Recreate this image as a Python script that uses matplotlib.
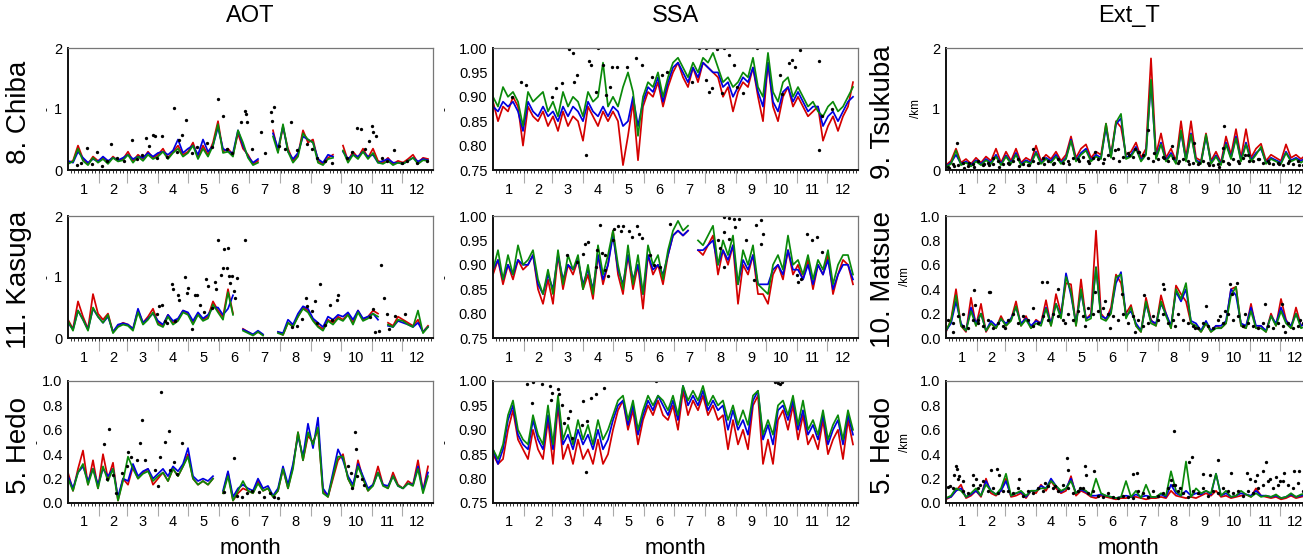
import numpy as np
import matplotlib
matplotlib.use("Agg")
import matplotlib.pyplot as plt
from matplotlib.ticker import MultipleLocator

plt.rcParams["font.family"] = ["Liberation Sans", "DejaVu Sans"]

nan = np.nan

# model output every 5 days (day of year 1, 6, ..., 361)
days = np.arange(1, 366, 5)
month_start = [1, 32, 60, 91, 121, 152, 182, 213, 244, 274, 305, 335, 366]
month_labels = [str(m) for m in range(1, 13)]

# ---- 8. Chiba, AOT
chiba_aot_red = [0.12, 0.15, 0.40, 0.18, 0.10, 0.22, 0.15, 0.20, 0.12, 0.22, 0.15, 0.18,
                 0.30, 0.15, 0.25, 0.18, 0.30, 0.20, 0.25, 0.35, 0.20, 0.30, 0.40, 0.25,
                 0.30, 0.45, 0.20, 0.40, 0.25, 0.45, 0.80, 0.30, 0.35, 0.25, 0.60, 0.35,
                 0.25, 0.10, 0.15, nan, nan, 0.65, 0.30, 0.70, 0.35, 0.15, 0.25, 0.65, 0.45,
                 0.50, 0.15, 0.10, 0.20, 0.25, nan, 0.40, 0.15, 0.30, 0.20, 0.35, 0.20,
                 0.35, 0.15, 0.12, 0.20, 0.10, 0.15, 0.12, 0.18, 0.25, 0.12, 0.20, 0.18]
chiba_aot_blue = [0.15, 0.12, 0.30, 0.20, 0.12, 0.18, 0.14, 0.22, 0.15, 0.20, 0.16, 0.20,
                  0.25, 0.18, 0.22, 0.20, 0.28, 0.22, 0.28, 0.30, 0.25, 0.32, 0.50, 0.28,
                  0.35, 0.40, 0.25, 0.50, 0.30, 0.40, 0.70, 0.35, 0.30, 0.28, 0.65, 0.40,
                  0.22, 0.12, 0.18, nan, nan, 0.60, 0.35, 0.72, 0.30, 0.18, 0.28, 0.55, 0.50,
                  0.45, 0.18, 0.12, 0.25, 0.22, nan, 0.30, 0.18, 0.25, 0.22, 0.30, 0.22,
                  0.25, 0.12, 0.15, 0.18, 0.12, 0.12, 0.10, 0.15, 0.20, 0.14, 0.18, 0.16]
chiba_aot_green = [0.10, 0.14, 0.35, 0.15, 0.08, 0.20, 0.12, 0.18, 0.10, 0.20, 0.14, 0.16,
                   0.25, 0.12, 0.22, 0.15, 0.25, 0.18, 0.22, 0.30, 0.18, 0.28, 0.35, 0.22,
                   0.28, 0.40, 0.18, 0.35, 0.22, 0.40, 0.75, 0.28, 0.30, 0.22, 0.65, 0.45,
                   0.20, 0.08, 0.12, nan, nan, 0.55, 0.28, 0.75, 0.30, 0.12, 0.22, 0.60, 0.50,
                   0.45, 0.12, 0.08, 0.18, 0.20, nan, 0.32, 0.12, 0.25, 0.18, 0.30, 0.18,
                   0.28, 0.12, 0.10, 0.15, 0.08, 0.12, 0.10, 0.15, 0.20, 0.10, 0.16, 0.15]
chiba_aot_obs_day = [107, 151, 156, 119, 178, 179, 180, 174, 207, 204, 205, 224, 194, 115, 112,
                     95, 86, 88, 79, 65, 44, 290, 294, 305, 306, 309, 302, 327, 20, 30, 10, 14,
                     25, 35, 40, 50, 57, 70, 75, 82, 90, 100, 110, 125, 130, 140, 145, 160, 165,
                     185, 198, 212, 218, 230, 240, 245, 250, 258, 265, 280, 285, 298, 315, 320,
                     335, 340, 350, 360]
chiba_aot_obs = [1.02, 1.16, 0.89, 0.82, 0.96, 0.91, 0.78, 0.78, 1.03, 0.95, 0.80, 0.78, 0.62,
                 0.58, 0.49, 0.55, 0.58, 0.56, 0.52, 0.49, 0.42, 0.69, 0.67, 0.72, 0.63, 0.55,
                 0.47, 0.32, 0.36, 0.30, 0.08, 0.12, 0.10, 0.06, 0.15, 0.20, 0.15, 0.18, 0.25,
                 0.40, 0.20, 0.22, 0.30, 0.28, 0.38, 0.45, 0.38, 0.35, 0.28, 0.35, 0.28, 0.40,
                 0.35, 0.32, 0.42, 0.35, 0.20, 0.15, 0.12, 0.20, 0.30, 0.35, 0.20, 0.15, 0.12,
                 0.15, 0.12, 0.15]

# ---- 8. Chiba, SSA
chiba_ssa_red = [0.89, 0.85, 0.88, 0.87, 0.90, 0.88, 0.80, 0.88, 0.86, 0.85, 0.87, 0.84,
                 0.86, 0.83, 0.87, 0.84, 0.86, 0.85, 0.81, 0.88, 0.86, 0.84, 0.87, 0.85,
                 0.87, 0.85, 0.76, 0.82, 0.89, 0.77, 0.88, 0.91, 0.90, 0.93, 0.88, 0.92,
                 0.95, 0.97, 0.94, 0.92, 0.96, 0.93, 0.97, 0.96, 0.95, 0.94, 0.90, 0.92, 0.87,
                 0.91, 0.93, 0.92, 0.96, 0.90, 0.85, 0.97, 0.88, 0.85, 0.90, 0.92, 0.88,
                 0.90, 0.88, 0.86, 0.87, 0.88, 0.81, 0.84, 0.86, 0.83, 0.86, 0.88, 0.93]
chiba_ssa_blue = [0.88, 0.87, 0.89, 0.88, 0.89, 0.87, 0.83, 0.89, 0.87, 0.86, 0.88, 0.86,
                  0.87, 0.85, 0.88, 0.86, 0.88, 0.87, 0.85, 0.89, 0.87, 0.86, 0.88, 0.86,
                  0.88, 0.87, 0.84, 0.85, 0.90, 0.84, 0.89, 0.92, 0.91, 0.94, 0.89, 0.93,
                  0.96, 0.97, 0.95, 0.93, 0.96, 0.94, 0.97, 0.96, 0.95, 0.95, 0.92, 0.93, 0.90,
                  0.92, 0.94, 0.93, 0.96, 0.91, 0.88, 0.97, 0.89, 0.87, 0.91, 0.92, 0.89,
                  0.91, 0.89, 0.87, 0.88, 0.88, 0.84, 0.86, 0.87, 0.85, 0.87, 0.89, 0.90]
chiba_ssa_green = [0.90, 0.88, 0.92, 0.90, 0.91, 0.89, 0.84, 0.91, 0.89, 0.90, 0.91, 0.87,
                   0.89, 0.86, 0.91, 0.88, 0.90, 0.89, 0.86, 0.91, 0.89, 0.90, 0.97, 0.88,
                   0.90, 0.88, 0.92, 0.95, 0.91, 0.82, 0.90, 0.93, 0.92, 0.95, 0.90, 0.94,
                   0.97, 0.98, 0.96, 0.94, 0.97, 0.95, 0.98, 0.97, 0.99, 0.96, 0.93, 0.94, 0.92,
                   0.93, 0.95, 0.94, 0.98, 0.92, 0.90, 0.99, 0.91, 0.89, 0.93, 0.94, 0.90,
                   0.92, 0.90, 0.88, 0.89, 0.87, 0.86, 0.88, 0.89, 0.87, 0.88, 0.90, 0.92]
chiba_ssa_obs_day = [77, 81, 85, 94, 106, 97, 99, 111, 120, 125, 135, 144, 150, 207, 214, 225,
                     232, 237, 242, 265, 300, 303, 308, 297, 327, 327, 288, 34, 29, 64, 70, 82,
                     104, 114, 118, 214, 220, 217, 251, 230, 290, 160, 175, 170, 200, 245, 330,
                     340, 60, 20]
chiba_ssa_obs = [0.997, 0.99, 0.945, 0.78, 1.0, 0.974, 0.965, 0.966, 0.962, 0.962, 0.962, 0.98,
                 0.966, 1.0, 1.0, 0.998, 1.0, 0.985, 0.966, 1.0, 0.976, 0.962, 0.995, 0.97,
                 0.973, 0.79, 0.945, 0.925, 0.93, 0.918, 0.928, 0.93, 0.91, 0.904, 0.92, 0.935,
                 0.918, 0.91, 0.908, 0.908, 0.905, 0.94, 0.95, 0.945, 0.93, 0.92, 0.86, 0.875,
                 0.90, 0.90]

# ---- 9. Tsukuba, Ext_T
tsukuba_ext_red = [0.08, 0.15, 0.35, 0.12, 0.18, 0.10, 0.20, 0.12, 0.22, 0.15, 0.35, 0.12,
                   0.30, 0.15, 0.35, 0.12, 0.20, 0.15, 0.40, 0.15, 0.25, 0.18, 0.30, 0.15,
                   0.25, 0.55, 0.20, 0.35, 0.42, 0.20, 0.30, 0.25, 0.76, 0.25, 0.80, 0.70,
                   0.25, 0.30, 0.45, 0.20, 0.35, 1.83, 0.25, 0.60, 0.20, 0.35, 0.15, 0.80, 0.20,
                   0.80, 0.20, 0.15, 0.60, 0.15, 0.30, 0.12, 0.55, 0.25, 0.67, 0.20, 0.67,
                   0.20, 0.35, 0.43, 0.15, 0.25, 0.20, 0.15, 0.42, 0.20, 0.25, 0.18, 0.25]
tsukuba_ext_blue = [0.06, 0.12, 0.25, 0.10, 0.14, 0.08, 0.16, 0.10, 0.18, 0.12, 0.25, 0.10,
                    0.24, 0.12, 0.28, 0.10, 0.16, 0.12, 0.30, 0.12, 0.20, 0.15, 0.25, 0.12,
                    0.20, 0.50, 0.16, 0.28, 0.35, 0.16, 0.25, 0.20, 0.70, 0.22, 0.75, 0.85,
                    0.20, 0.25, 0.38, 0.16, 0.28, 1.45, 0.20, 0.45, 0.16, 0.28, 0.12, 0.62, 0.16,
                    0.60, 0.16, 0.12, 0.55, 0.12, 0.24, 0.10, 0.45, 0.20, 0.55, 0.16, 0.45,
                    0.16, 0.28, 0.35, 0.12, 0.20, 0.16, 0.12, 0.30, 0.16, 0.20, 0.15, 0.20]
tsukuba_ext_green = [0.05, 0.10, 0.32, 0.08, 0.12, 0.06, 0.14, 0.08, 0.16, 0.10, 0.22, 0.08,
                     0.22, 0.10, 0.25, 0.08, 0.14, 0.10, 0.28, 0.10, 0.18, 0.12, 0.22, 0.10,
                     0.18, 0.48, 0.14, 0.25, 0.32, 0.14, 0.22, 0.18, 0.76, 0.20, 0.78, 0.92,
                     0.18, 0.22, 0.35, 0.14, 0.25, 1.48, 0.18, 0.42, 0.14, 0.25, 0.10, 0.65, 0.14,
                     0.58, 0.14, 0.10, 0.58, 0.10, 0.22, 0.08, 0.42, 0.18, 0.52, 0.14, 0.42,
                     0.14, 0.25, 0.38, 0.10, 0.18, 0.14, 0.10, 0.28, 0.14, 0.18, 0.12, 0.18]
# lidar, on days 3, 8, ..., 363
tsukuba_ext_obs_grid = [0.05, 0.10, 0.08, 0.12, 0.06, 0.10, 0.14, 0.08, 0.12, 0.10, 0.15, 0.10,
                        0.12, 0.15, 0.18, 0.10, 0.08, 0.14, 0.12, 0.20, 0.15, 0.10, 0.18, 0.12,
                        0.15, 0.20, 0.18, 0.22, 0.15, 0.20, 0.18, 0.12, 0.25, 0.20, 0.35, 0.22,
                        0.28, 0.22, 0.30, 0.25, 0.20, 0.15, 0.18, 0.22, 0.15, 0.20, 0.12, 0.18,
                        0.15, 0.12, 0.10, 0.15, 0.12, 0.08, 0.10, 0.15, 0.12, 0.18, 0.15, 0.20,
                        0.25, 0.15, 0.18, 0.12, 0.15, 0.10, 0.12, 0.08, 0.12, 0.10, 0.14, 0.08,
                        0.10]
tsukuba_ext_obs_day = [12, 203, 227, 249, 279, 278, 88, 48, 150, 170, 190, 300, 4, 9, 19, 24, 29,
                       39, 44, 54, 64, 74, 84, 99, 109, 124, 134, 144, 159, 174, 184, 194, 209,
                       219, 234, 244, 254, 264, 274, 284, 294, 304, 314, 324, 334, 344, 354, 364]
tsukuba_ext_obs = [0.44, 0.66, 0.39, 0.45, 0.72, 0.36, 0.34, 0.20, 0.30, 0.32, 0.35, 0.24, 0.03,
                   0.06, 0.04, 0.12, 0.05, 0.10, 0.08, 0.05, 0.10, 0.06, 0.08, 0.10, 0.12, 0.10,
                   0.15, 0.12, 0.18, 0.15, 0.25, 0.30, 0.28, 0.20, 0.15, 0.10, 0.12, 0.08, 0.05,
                   0.10, 0.12, 0.15, 0.18, 0.12, 0.10, 0.15, 0.08, 0.12]

# ---- 11. Kasuga, AOT
kasuga_aot_red = [0.30, 0.15, 0.60, 0.35, 0.15, 0.72, 0.40, 0.30, 0.40, 0.10, 0.20, 0.25,
                  0.22, 0.15, 0.45, 0.25, 0.35, 0.48, 0.25, 0.20, 0.38, 0.25, 0.30, 0.45,
                  0.40, 0.25, 0.40, 0.30, 0.35, 0.60, 0.45, 0.35, 0.80, 0.40, nan, 0.15,
                  0.10, 0.05, 0.10, 0.05, nan, nan, 0.10, 0.05, 0.25, 0.20, 0.35, 0.50, 0.45,
                  0.30, 0.20, 0.15, 0.30, 0.25, 0.35, 0.30, 0.40, 0.25, 0.45, 0.30, 0.35,
                  0.45, 0.40, nan, 0.25, 0.20, 0.35, 0.30, 0.25, 0.20, 0.30, 0.10, 0.20]
kasuga_aot_blue = [0.25, 0.14, 0.45, 0.30, 0.14, 0.48, 0.35, 0.25, 0.35, 0.10, 0.22, 0.24,
                   0.22, 0.15, 0.48, 0.25, 0.32, 0.40, 0.28, 0.22, 0.38, 0.28, 0.32, 0.45,
                   0.42, 0.28, 0.42, 0.32, 0.38, 0.50, 0.50, 0.38, 0.48, 0.70, nan, 0.14,
                   0.10, 0.06, 0.12, 0.06, nan, nan, 0.10, 0.08, 0.30, 0.22, 0.40, 0.52, 0.48,
                   0.32, 0.25, 0.18, 0.35, 0.30, 0.38, 0.35, 0.42, 0.30, 0.45, 0.32, 0.35,
                   0.40, 0.30, nan, 0.20, 0.18, 0.28, 0.25, 0.22, 0.18, 0.25, 0.10, 0.18]
kasuga_aot_green = [0.28, 0.12, 0.45, 0.30, 0.12, 0.50, 0.35, 0.25, 0.38, 0.08, 0.18, 0.22,
                    0.20, 0.12, 0.42, 0.22, 0.30, 0.42, 0.22, 0.18, 0.35, 0.22, 0.28, 0.42,
                    0.38, 0.22, 0.38, 0.28, 0.32, 0.55, 0.42, 0.30, 0.75, 0.38, nan, 0.12,
                    0.08, 0.04, 0.10, 0.04, nan, nan, 0.08, 0.05, 0.25, 0.18, 0.35, 0.48, 0.42,
                    0.28, 0.18, 0.12, 0.28, 0.22, 0.32, 0.28, 0.38, 0.22, 0.42, 0.28, 0.32,
                    0.40, 0.35, nan, 0.22, 0.18, 0.30, 0.28, 0.22, 0.18, 0.45, 0.08, 0.18]
kasuga_aot_obs_day = [105, 106, 111, 112, 118, 120, 121, 139, 141, 128, 130, 133, 148, 149, 151,
                      154, 156, 157, 161, 160, 162, 163, 165, 170, 167, 168, 178, 92, 95, 90, 98,
                      240, 239, 253, 248, 263, 271, 270, 314, 317, 306, 320, 328, 338, 235, 230,
                      225, 245, 250, 258, 265, 303, 308, 312, 322, 100, 108, 125, 137, 145]
kasuga_aot_obs = [0.89, 0.80, 0.71, 0.63, 1.00, 0.74, 0.82, 0.96, 0.85, 0.71, 0.70, 0.54, 0.92,
                  0.81, 1.61, 1.03, 1.15, 1.46, 1.47, 1.15, 1.01, 0.90, 1.01, 0.98, 0.77, 0.66,
                  1.61, 0.52, 0.54, 0.39, 0.28, 0.53, 0.66, 0.89, 0.61, 0.54, 0.71, 0.62, 1.20,
                  0.65, 0.48, 0.39, 0.36, 0.39, 0.31, 0.20, 0.18, 0.45, 0.25, 0.22, 0.30, 0.35,
                  0.10, 0.12, 0.15, 0.25, 0.28, 0.15, 0.42, 0.50]

# ---- 11. Kasuga, SSA
kasuga_ssa_red = [0.88, 0.91, 0.86, 0.90, 0.87, 0.91, 0.89, 0.90, 0.92, 0.85, 0.82, 0.87,
                  0.82, 0.92, 0.85, 0.90, 0.88, 0.91, 0.85, 0.88, 0.83, 0.92, 0.86, 0.90,
                  0.97, 0.88, 0.84, 0.92, 0.85, 0.90, 0.81, 0.92, 0.88, 0.90, 0.86, 0.92,
                  0.96, 0.97, 0.96, 0.97, nan, 0.93, 0.92, 0.94, 0.96, 0.88, 0.93, 0.90, 0.94,
                  0.82, 0.90, 0.88, 0.92, 0.84, 0.84, 0.82, 0.88, 0.90, 0.87, 0.93, 0.88,
                  0.90, 0.87, 0.91, 0.85, 0.90, 0.88, 0.92, 0.84, 0.88, 0.91, 0.90, 0.86]
kasuga_ssa_blue = [0.89, 0.91, 0.87, 0.90, 0.88, 0.91, 0.90, 0.90, 0.92, 0.86, 0.84, 0.88,
                   0.85, 0.92, 0.87, 0.90, 0.89, 0.91, 0.86, 0.89, 0.85, 0.92, 0.87, 0.90,
                   0.96, 0.89, 0.86, 0.92, 0.87, 0.90, 0.84, 0.92, 0.89, 0.90, 0.88, 0.92,
                   0.96, 0.97, 0.96, 0.97, nan, 0.93, 0.93, 0.94, 0.95, 0.90, 0.93, 0.91, 0.94,
                   0.86, 0.91, 0.89, 0.92, 0.86, 0.86, 0.86, 0.89, 0.90, 0.88, 0.93, 0.89,
                   0.89, 0.87, 0.90, 0.86, 0.90, 0.88, 0.91, 0.85, 0.88, 0.90, 0.90, 0.87]
kasuga_ssa_green = [0.89, 0.93, 0.87, 0.92, 0.88, 0.94, 0.90, 0.91, 0.93, 0.87, 0.84, 0.89,
                    0.84, 0.93, 0.86, 0.92, 0.89, 0.92, 0.85, 0.90, 0.84, 0.94, 0.88, 0.92,
                    0.97, 0.90, 0.85, 0.94, 0.86, 0.92, 0.84, 0.94, 0.90, 0.92, 0.87, 0.93,
                    0.97, 0.99, 0.97, 0.98, nan, 0.95, 0.94, 0.96, 0.98, 0.90, 0.95, 0.92, 0.96,
                    0.86, 0.93, 0.90, 0.94, 0.86, 0.85, 0.84, 0.90, 0.92, 0.89, 0.96, 0.90,
                    0.91, 0.88, 0.92, 0.87, 0.91, 0.89, 0.93, 0.86, 0.90, 0.92, 0.92, 0.88]
kasuga_ssa_obs_day = [108, 121, 122, 126, 131, 129, 137, 145, 140, 147, 150, 93, 96, 91, 105,
                      110, 113, 104, 113, 116, 158, 162, 168, 178, 232, 237, 242, 247, 243, 232,
                      232, 237, 254, 264, 269, 271, 262, 269, 315, 320, 325, 309, 305, 330, 306,
                      75, 85, 228, 226]
kasuga_ssa_obs = [0.981, 0.95, 0.974, 0.98, 0.98, 0.97, 0.97, 0.98, 0.957, 0.964, 0.955, 0.943,
                  0.947, 0.923, 0.93, 0.925, 0.92, 0.895, 0.89, 0.878, 0.92, 0.90, 0.895, 0.984,
                  0.998, 0.995, 0.993, 0.993, 0.977, 0.967, 0.895, 0.953, 0.95, 0.981, 0.991,
                  0.964, 0.868, 0.943, 0.964, 0.95, 0.957, 0.871, 0.88, 0.926, 0.864, 0.92,
                  0.905, 0.935, 0.95]

# ---- 10. Matsue, Ext_T
matsue_ext_red = [0.05, 0.15, 0.40, 0.10, 0.05, 0.33, 0.10, 0.28, 0.05, 0.12, 0.08, 0.18,
                  0.10, 0.15, 0.30, 0.10, 0.18, 0.08, 0.15, 0.12, 0.31, 0.10, 0.36, 0.20,
                  0.45, 0.44, 0.10, 0.48, 0.15, 0.20, 0.88, 0.20, 0.15, 0.25, 0.52, 0.45,
                  0.20, 0.27, 0.10, 0.05, 0.33, 0.15, 0.10, 0.35, 0.20, 0.08, 0.43, 0.36, 0.30,
                  0.12, 0.10, 0.05, 0.12, 0.05, 0.10, 0.08, 0.12, 0.40, 0.42, 0.10, 0.08,
                  0.28, 0.08, 0.10, 0.05, 0.20, 0.10, 0.32, 0.15, 0.08, 0.25, 0.10, 0.12]
matsue_ext_blue = [0.06, 0.12, 0.30, 0.12, 0.06, 0.25, 0.12, 0.20, 0.06, 0.14, 0.10, 0.15,
                   0.12, 0.16, 0.25, 0.12, 0.16, 0.10, 0.14, 0.12, 0.25, 0.12, 0.28, 0.18,
                   0.53, 0.35, 0.12, 0.38, 0.16, 0.18, 0.58, 0.18, 0.16, 0.22, 0.45, 0.54,
                   0.18, 0.22, 0.12, 0.06, 0.28, 0.14, 0.12, 0.28, 0.20, 0.10, 0.38, 0.30, 0.40,
                   0.14, 0.12, 0.06, 0.14, 0.06, 0.10, 0.10, 0.14, 0.40, 0.35, 0.12, 0.10,
                   0.25, 0.10, 0.10, 0.06, 0.18, 0.12, 0.25, 0.14, 0.10, 0.20, 0.10, 0.12]
matsue_ext_green = [0.06, 0.14, 0.35, 0.10, 0.06, 0.22, 0.10, 0.20, 0.06, 0.12, 0.08, 0.16,
                    0.10, 0.14, 0.26, 0.10, 0.15, 0.08, 0.12, 0.10, 0.24, 0.10, 0.28, 0.16,
                    0.50, 0.38, 0.10, 0.40, 0.14, 0.16, 0.58, 0.16, 0.14, 0.20, 0.50, 0.52,
                    0.16, 0.25, 0.10, 0.05, 0.30, 0.12, 0.10, 0.30, 0.18, 0.08, 0.40, 0.32, 0.45,
                    0.12, 0.10, 0.05, 0.12, 0.05, 0.08, 0.08, 0.12, 0.35, 0.42, 0.10, 0.08,
                    0.22, 0.08, 0.08, 0.05, 0.18, 0.10, 0.22, 0.12, 0.08, 0.20, 0.08, 0.10]
matsue_ext_obs_grid = [0.15, 0.12, 0.18, 0.10, 0.08, 0.15, 0.12, 0.10, 0.15, 0.08, 0.12, 0.10,
                       0.15, 0.20, 0.12, 0.18, 0.15, 0.10, 0.12, 0.18, 0.15, 0.20, 0.18, 0.15,
                       0.20, 0.15, 0.22, 0.18, 0.25, 0.20, 0.22, 0.25, 0.20, 0.18, 0.15, 0.20,
                       0.12, 0.18, 0.15, 0.10, 0.12, 0.18, 0.15, 0.20, 0.12, 0.15, 0.20, 0.15,
                       0.12, 0.10, 0.08, 0.12, 0.10, 0.08, 0.15, 0.12, 0.20, 0.15, 0.18, 0.10,
                       0.12, 0.10, 0.08, 0.12, 0.10, 0.08, 0.12, 0.10, 0.12, 0.08, 0.10, 0.12,
                       0.10]
matsue_ext_obs_day = [29, 30, 44, 45, 97, 102, 113, 177, 199, 218, 219, 261, 285, 292, 287, 320,
                      337, 150, 160, 280, 275, 8, 18, 33, 60, 88, 120, 140, 165, 190, 230, 250,
                      300, 340, 355]
matsue_ext_obs = [0.39, 0.27, 0.38, 0.38, 0.46, 0.46, 0.40, 0.36, 0.35, 0.44, 0.40, 0.26, 0.44,
                  0.45, 0.36, 0.28, 0.28, 0.38, 0.30, 0.22, 0.18, 0.05, 0.20, 0.15, 0.08, 0.25,
                  0.12, 0.10, 0.08, 0.05, 0.10, 0.08, 0.20, 0.05, 0.15]

# ---- 5. Hedo, AOT
hedo_aot_red = [0.25, 0.10, 0.28, 0.43, 0.15, 0.35, 0.12, 0.40, 0.20, 0.33, 0.02, 0.20,
                0.15, 0.30, 0.20, 0.25, 0.28, 0.15, 0.20, 0.25, 0.18, 0.28, 0.22, 0.30,
                0.40, 0.20, 0.15, 0.18, 0.15, 0.20, nan, 0.08, 0.25, 0.02, 0.08, 0.12,
                0.10, 0.08, 0.18, 0.10, 0.12, 0.05, 0.10, 0.28, 0.12, 0.30, 0.58, 0.35, 0.55,
                0.50, 0.60, 0.10, 0.05, 0.20, 0.35, 0.40, 0.20, 0.12, 0.35, 0.20, 0.10,
                0.15, 0.30, 0.15, 0.12, 0.25, 0.15, 0.12, 0.18, 0.15, 0.35, 0.10, 0.30]
hedo_aot_blue = [0.22, 0.12, 0.25, 0.30, 0.18, 0.28, 0.15, 0.28, 0.22, 0.28, 0.05, 0.20,
                 0.18, 0.32, 0.22, 0.26, 0.28, 0.20, 0.24, 0.28, 0.22, 0.30, 0.26, 0.32,
                 0.45, 0.22, 0.18, 0.20, 0.18, 0.22, nan, 0.10, 0.26, 0.05, 0.12, 0.15,
                 0.12, 0.10, 0.20, 0.12, 0.14, 0.06, 0.12, 0.30, 0.15, 0.32, 0.55, 0.38, 0.65,
                 0.45, 0.70, 0.12, 0.06, 0.25, 0.44, 0.35, 0.22, 0.15, 0.32, 0.22, 0.12,
                 0.15, 0.25, 0.15, 0.14, 0.22, 0.14, 0.12, 0.16, 0.15, 0.30, 0.10, 0.25]
hedo_aot_green = [0.20, 0.10, 0.25, 0.32, 0.15, 0.28, 0.12, 0.30, 0.18, 0.28, 0.02, 0.18,
                  0.38, 0.28, 0.20, 0.24, 0.26, 0.18, 0.22, 0.25, 0.18, 0.28, 0.22, 0.30,
                  0.38, 0.20, 0.15, 0.18, 0.15, 0.20, nan, 0.08, 0.22, 0.02, 0.10, 0.18,
                  0.10, 0.08, 0.16, 0.10, 0.12, 0.05, 0.10, 0.28, 0.12, 0.28, 0.58, 0.35, 0.58,
                  0.48, 0.62, 0.08, 0.05, 0.22, 0.38, 0.38, 0.20, 0.12, 0.30, 0.20, 0.10,
                  0.14, 0.25, 0.14, 0.12, 0.22, 0.14, 0.12, 0.16, 0.14, 0.28, 0.08, 0.22]
hedo_aot_obs_day = [37, 42, 61, 73, 75, 94, 93, 98, 102, 107, 115, 167, 288, 289, 70, 78, 88, 64,
                    46, 40, 49, 55, 60, 91, 103, 110, 157, 170, 175, 180, 185, 192, 197, 203,
                    207, 211, 281, 284, 290, 295, 297, 285]
hedo_aot_obs = [0.48, 0.61, 0.42, 0.49, 0.68, 0.91, 0.38, 0.50, 0.59, 0.34, 0.49, 0.37, 0.58,
                0.44, 0.35, 0.35, 0.27, 0.38, 0.23, 0.20, 0.08, 0.25, 0.30, 0.14, 0.27, 0.24,
                0.09, 0.06, 0.05, 0.08, 0.10, 0.09, 0.05, 0.08, 0.05, 0.04, 0.30, 0.25, 0.22,
                0.20, 0.15, 0.12]

# ---- 5. Hedo, SSA
hedo_ssa_red = [0.85, 0.83, 0.84, 0.90, 0.94, 0.88, 0.86, 0.84, 0.90, 0.86, 0.84, 0.92,
                0.83, 0.95, 0.84, 0.87, 0.83, 0.88, 0.84, 0.86, 0.83, 0.88, 0.83, 0.85,
                0.90, 0.94, 0.96, 0.90, 0.94, 0.87, 0.92, 0.95, 0.93, 0.96, 0.93, 0.92,
                0.95, 0.90, 0.98, 0.93, 0.96, 0.94, 0.97, 0.93, 0.95, 0.92, 0.93, 0.86, 0.92,
                0.87, 0.90, 0.86, 0.95, 0.97, 0.83, 0.88, 0.83, 0.92, 0.94, 0.90, 0.95,
                0.88, 0.93, 0.87, 0.89, 0.86, 0.92, 0.85, 0.88, 0.90, 0.84, 0.92, 0.87]
hedo_ssa_blue = [0.86, 0.83, 0.86, 0.92, 0.95, 0.89, 0.87, 0.86, 0.92, 0.88, 0.86, 0.93,
                 0.86, 0.96, 0.87, 0.89, 0.86, 0.90, 0.87, 0.89, 0.86, 0.90, 0.86, 0.88,
                 0.92, 0.95, 0.96, 0.91, 0.95, 0.89, 0.93, 0.96, 0.94, 0.97, 0.95, 0.93,
                 0.96, 0.92, 0.99, 0.95, 0.97, 0.95, 0.98, 0.94, 0.96, 0.94, 0.95, 0.90, 0.94,
                 0.90, 0.92, 0.89, 0.96, 0.98, 0.88, 0.91, 0.87, 0.94, 0.95, 0.92, 0.96,
                 0.90, 0.94, 0.89, 0.91, 0.88, 0.93, 0.87, 0.90, 0.92, 0.87, 0.93, 0.89]
hedo_ssa_green = [0.86, 0.84, 0.87, 0.93, 0.96, 0.90, 0.88, 0.87, 0.93, 0.89, 0.87, 0.95,
                  0.87, 0.97, 0.88, 0.91, 0.87, 0.92, 0.88, 0.91, 0.87, 0.92, 0.88, 0.90,
                  0.93, 0.96, 0.97, 0.92, 0.96, 0.90, 0.94, 0.97, 0.95, 0.97, 0.96, 0.94,
                  0.97, 0.93, 0.99, 0.96, 0.98, 0.96, 0.99, 0.95, 0.97, 0.95, 0.96, 0.92, 0.95,
                  0.91, 0.94, 0.91, 0.97, 0.98, 0.89, 0.92, 0.89, 0.95, 0.96, 0.93, 0.97,
                  0.91, 0.96, 0.90, 0.92, 0.89, 0.94, 0.88, 0.91, 0.93, 0.88, 0.94, 0.90]
hedo_ssa_obs_day = [35, 41, 50, 58, 60, 59, 66, 67, 40, 70, 72, 76, 78, 80, 90, 91, 94, 95, 99,
                    104, 112, 164, 283, 286, 284, 290, 288]
hedo_ssa_obs = [0.993, 0.998, 0.993, 0.99, 0.976, 0.962, 0.984, 0.973, 0.955, 0.95, 0.914, 0.925,
                0.938, 0.884, 0.91, 0.96, 0.813, 0.918, 0.966, 0.974, 0.986, 1.0, 0.998, 0.995,
                0.999, 0.998, 0.993]

# ---- 5. Hedo, Ext_T
hedo_ext_red = [0.03, 0.05, 0.10, 0.15, 0.04, 0.06, 0.10, 0.05, 0.20, 0.08, 0.06, 0.10,
                0.20, 0.05, 0.06, 0.08, 0.04, 0.10, 0.08, 0.15, 0.10, 0.18, 0.12, 0.08,
                0.10, 0.22, 0.06, 0.10, 0.08, 0.05, 0.04, 0.06, 0.05, 0.04, 0.03, 0.04,
                0.04, 0.05, 0.05, 0.04, 0.03, 0.04, 0.04, 0.05, 0.04, 0.10, 0.06, 0.05, 0.04,
                0.05, 0.04, 0.06, 0.08, 0.06, 0.10, 0.05, 0.06, 0.04, 0.05, 0.06, 0.07,
                0.05, 0.12, 0.06, 0.05, 0.04, 0.05, 0.03, 0.04, 0.06, 0.04, 0.05, 0.06]
hedo_ext_blue = [0.04, 0.05, 0.10, 0.12, 0.05, 0.07, 0.10, 0.06, 0.18, 0.10, 0.07, 0.10,
                 0.18, 0.06, 0.08, 0.09, 0.05, 0.10, 0.10, 0.14, 0.12, 0.20, 0.14, 0.09,
                 0.12, 0.20, 0.08, 0.11, 0.09, 0.06, 0.06, 0.07, 0.06, 0.05, 0.04, 0.05,
                 0.06, 0.05, 0.07, 0.05, 0.06, 0.05, 0.05, 0.07, 0.05, 0.15, 0.08, 0.06, 0.10,
                 0.06, 0.08, 0.07, 0.10, 0.07, 0.24, 0.06, 0.08, 0.05, 0.06, 0.08, 0.07,
                 0.06, 0.10, 0.06, 0.06, 0.05, 0.06, 0.04, 0.05, 0.07, 0.05, 0.06, 0.07]
hedo_ext_green = [0.04, 0.06, 0.12, 0.10, 0.05, 0.08, 0.12, 0.06, 0.15, 0.10, 0.07, 0.12,
                  0.24, 0.06, 0.08, 0.10, 0.06, 0.10, 0.10, 0.12, 0.12, 0.18, 0.14, 0.10,
                  0.12, 0.18, 0.08, 0.12, 0.10, 0.06, 0.20, 0.08, 0.06, 0.05, 0.04, 0.05,
                  0.18, 0.05, 0.10, 0.04, 0.15, 0.05, 0.05, 0.08, 0.06, 0.26, 0.10, 0.06, 0.34,
                  0.05, 0.12, 0.08, 0.10, 0.08, 0.24, 0.06, 0.10, 0.05, 0.06, 0.10, 0.07,
                  0.05, 0.08, 0.05, 0.06, 0.05, 0.07, 0.04, 0.05, 0.08, 0.05, 0.07, 0.08]
hedo_ext_obs_grid = [0.13, 0.12, 0.20, 0.10, 0.08, 0.15, 0.12, 0.18, 0.10, 0.12, 0.08, 0.10,
                     0.10, 0.08, 0.12, 0.06, 0.10, 0.08, 0.12, 0.10, 0.14, 0.12, 0.10, 0.15,
                     0.12, 0.08, 0.10, 0.12, 0.08, 0.10, 0.06, 0.05, 0.08, 0.05, 0.04, 0.06,
                     0.05, 0.04, 0.10, 0.08, 0.05, 0.10, 0.06, 0.08, 0.12, 0.15, 0.10, 0.08,
                     0.05, 0.10, 0.08, 0.12, 0.06, 0.10, 0.08, 0.12, 0.10, 0.08, 0.10, 0.06,
                     0.10, 0.08, 0.12, 0.15, 0.18, 0.12, 0.15, 0.18, 0.15, 0.12, 0.16, 0.10,
                     0.14]
hedo_ext_obs_day = [11, 12, 9, 14, 5, 28, 31, 46, 52, 54, 74, 122, 123, 140, 141, 149, 188, 192,
                    229, 226, 247, 244, 273, 258, 265, 286, 302, 312, 321, 318, 331, 339, 349,
                    354, 335, 325, 310, 305, 18, 35, 100, 110, 135, 230, 235]
hedo_ext_obs = [0.30, 0.28, 0.23, 0.22, 0.14, 0.23, 0.20, 0.27, 0.28, 0.23, 0.20, 0.37, 0.27,
                0.30, 0.23, 0.26, 0.24, 0.25, 0.59, 0.19, 0.38, 0.34, 0.35, 0.24, 0.23, 0.25,
                0.25, 0.23, 0.34, 0.26, 0.21, 0.25, 0.26, 0.26, 0.18, 0.20, 0.18, 0.20, 0.18,
                0.15, 0.16, 0.14, 0.12, 0.15, 0.12]

obs_days = days + 2

W, H = 1303, 559
col_left = [68, 493, 946]
row_top = [48, 216, 381]
ax_w, ax_h = 365, 122


def draw_panel(ax, red, blue, green, obs_day, obs, ylim, yticks, fmt, unit, unit_off):
    ax.plot(days, red, color="#d40000", lw=1.25)
    ax.plot(days, blue, color="#0000e0", lw=1.25)
    ax.plot(days, green, color="#0a8a0a", lw=1.25)
    ax.plot(obs_day, obs, "o", color="k", ms=2.4, mec="none")

    ax.set_xlim(1, 366)
    ax.set_ylim(*ylim)
    ax.set_yticks(yticks)
    ax.set_yticklabels([fmt.format(v) for v in yticks])
    ax.tick_params(axis="y", length=0, pad=4, labelsize=10.5)

    centers = [(a + b) / 2 for a, b in zip(month_start[:-1], month_start[1:])]
    ax.set_xticks(centers)
    ax.set_xticklabels(month_labels)
    ax.tick_params(axis="x", which="major", length=0, pad=9, labelsize=10.5)
    ax.xaxis.set_minor_locator(MultipleLocator(3.5))
    ax.tick_params(axis="x", which="minor", length=2, width=0.7, color="#333")

    sec = ax.secondary_xaxis("bottom")
    sec.set_xticks(month_start[1:-1])
    sec.set_xticklabels([])
    sec.tick_params(length=9, width=0.8, color="#aaaaaa")
    sec.spines["bottom"].set_visible(False)

    for s in ["left", "bottom"]:
        ax.spines[s].set_linewidth(1.4)
        ax.spines[s].set_color("#111111")
    for s in ["top", "right"]:
        ax.spines[s].set_linewidth(0.9)
        ax.spines[s].set_color("#777777")

    ax.set_ylabel(unit, fontsize=8.5, labelpad=0)
    ax.yaxis.set_label_coords(unit_off / ax_w, 0.5)


fig = plt.figure(figsize=(W / 100, H / 100), dpi=100)

axes = {}
for r in range(3):
    for c in range(3):
        l = col_left[c]
        t = row_top[r]
        axes[r, c] = fig.add_axes([l / W, 1 - (t + ax_h) / H, ax_w / W, ax_h / H])

aot2 = ([0, 2], [0, 1, 2], "{:.0f}")
frac = ([0, 1], [0, 0.2, 0.4, 0.6, 0.8, 1.0], "{:.1f}")
ssa = ([0.75, 1.0], [0.75, 0.80, 0.85, 0.90, 0.95, 1.00], "{:.2f}")

draw_panel(axes[0, 0], chiba_aot_red, chiba_aot_blue, chiba_aot_green,
           chiba_aot_obs_day, chiba_aot_obs, *aot2, "-", -14)
draw_panel(axes[0, 1], chiba_ssa_red, chiba_ssa_blue, chiba_ssa_green,
           chiba_ssa_obs_day, chiba_ssa_obs, *ssa, "-", -41)
draw_panel(axes[0, 2], tsukuba_ext_red, tsukuba_ext_blue, tsukuba_ext_green,
           list(obs_days) + tsukuba_ext_obs_day, tsukuba_ext_obs_grid + tsukuba_ext_obs,
           *aot2, "/km", -24)
draw_panel(axes[1, 0], kasuga_aot_red, kasuga_aot_blue, kasuga_aot_green,
           kasuga_aot_obs_day, kasuga_aot_obs, *aot2, "-", -14)
draw_panel(axes[1, 1], kasuga_ssa_red, kasuga_ssa_blue, kasuga_ssa_green,
           kasuga_ssa_obs_day, kasuga_ssa_obs, *ssa, "-", -41)
draw_panel(axes[1, 2], matsue_ext_red, matsue_ext_blue, matsue_ext_green,
           list(obs_days) + matsue_ext_obs_day, matsue_ext_obs_grid + matsue_ext_obs,
           *frac, "/km", -35)
draw_panel(axes[2, 0], hedo_aot_red, hedo_aot_blue, hedo_aot_green,
           hedo_aot_obs_day, hedo_aot_obs, *frac, "-", -24)
draw_panel(axes[2, 1], hedo_ssa_red, hedo_ssa_blue, hedo_ssa_green,
           hedo_ssa_obs_day, hedo_ssa_obs, *ssa, "-", -41)
draw_panel(axes[2, 2], hedo_ext_red, hedo_ext_blue, hedo_ext_green,
           list(obs_days) + hedo_ext_obs_day, hedo_ext_obs_grid + hedo_ext_obs,
           *frac, "/km", -35)

# column titles, station names, x labels
titles = ["AOT", "SSA", "Ext_T"]
for c in range(3):
    cx = (col_left[c] + ax_w / 2) / W
    fig.text(cx, 1 - 16 / H, titles[c], ha="center", va="center", fontsize=17)
    fig.text(cx, 1 - 548 / H, "month", ha="center", va="center", fontsize=16)

left_names = ["8. Chiba", "11. Kasuga", "5. Hedo"]
right_names = ["9. Tsukuba", "10. Matsue", "5. Hedo"]
for r in range(3):
    cy = 1 - (row_top[r] + ax_h / 2 + 3) / H
    fig.text(19 / W, cy, left_names[r], rotation=90, ha="center", va="center", fontsize=20)
    fig.text(883 / W, cy, right_names[r], rotation=90, ha="center", va="center", fontsize=20)

fig.savefig("out.png", dpi=100)
